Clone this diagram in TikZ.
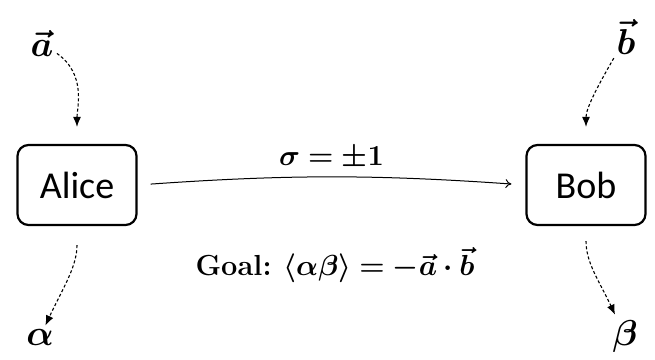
\RequirePackage{fix-cm}
\documentclass[tikz,border=0pt]{standalone}
\usepackage{amsmath, amssymb, bm}
\usepackage{fontspec}
\newfontfamily\partyfont{Carlito}
\usetikzlibrary{arrows.meta}

\begin{document}
\begin{tikzpicture}[x=1pt, y=1pt,
    party/.style={draw, line width=2.2pt, rounded corners=11pt, minimum width=119pt, minimum height=80pt, font=\fontsize{38}{40}\selectfont\partyfont},
    sym/.style={font=\fontsize{36}{40}\selectfont},
    label/.style={font=\fontsize{29}{32}\selectfont},
    input/.style={line width=1.1pt, dash pattern=on 3pt off 2.2pt, -{Latex[length=10pt, width=8pt]}}]
    \useasboundingbox (0,0) rectangle (655,359);

    % Parties
    \node[party] (alice) at (77, 174) {Alice};
    \node[party] (bob) at (586, 174) {Bob};

    % Settings and outcomes
    \node[sym] (avec) at (42, 316) {$\bm{\vec{a}}$};
    \node[sym] (bvec) at (626, 322) {$\bm{\vec{b}}$};
    \node[sym] (alpha) at (40, 22) {$\bm{\alpha}$};
    \node[sym] (beta) at (625, 23) {$\bm{\beta}$};

    \draw[input, shorten >=17pt] (avec) to[out=-35, in=90] (alice.north);
    \draw[input, shorten >=17pt] (bvec) to[out=-120, in=90] (bob.north);
    \draw[input, shorten <=19pt] (alice.south) to[out=-90, in=65] (alpha);
    \draw[input, shorten <=15pt, shorten >=2pt] (bob.south) to[out=-90, in=115] (beta);

    % Message
    \draw[line width=1pt, -{To[length=6pt, width=9pt]}, shorten <=13pt, shorten >=14pt] (alice.east) to[bend left=4] node[label, above=4pt] {$\bm{\sigma = \pm 1}$} (bob.west);

    \node[label] (goal) at (335, 94) {\textbf{Goal:} $\bm{\langle \alpha\beta \rangle = -\vec{a} \cdot \vec{b}}$};
\end{tikzpicture}
\end{document}
